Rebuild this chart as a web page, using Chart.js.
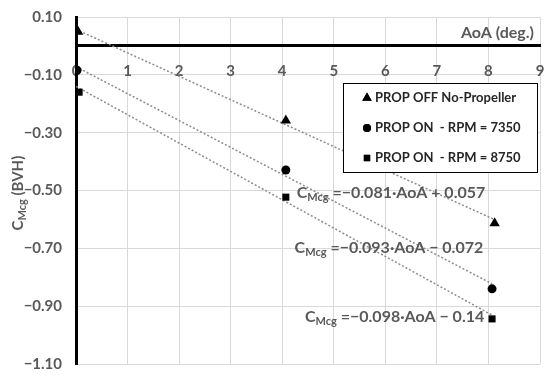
<!DOCTYPE html>
<html>
<head>
<meta charset="utf-8">
<script src="https://cdn.jsdelivr.net/npm/chart.js@4"></script>
<style>
    html, body { margin: 0; background: #fff; }
    #wrap { width: 550px; height: 376px; }
</style>
</head>
<body>
<div id="wrap"><canvas id="chart"></canvas></div>
<script>
const aoaOff = [0.04, 4.07, 8.12];
const cmOff = [0.049, -0.258, -0.613];
const aoa7350 = [0.02, 4.07, 8.07];
const cm7350 = [-0.084, -0.429, -0.84];
const aoa8750 = [0.06, 4.07, 8.07];
const cm8750 = [-0.16, -0.523, -0.944];

// Trend lines as printed on the figure
const seriesLabels = ['PROP OFF No-Propeller', 'PROP ON  - RPM = 7350', 'PROP ON  - RPM = 8750'];
const slopes = [-0.081, -0.093, -0.098];
const intercepts = [0.057, -0.072, -0.14];
const trendStart = [0, 0, 0];
const trendEnd = [8.12, 8.07, 8.07];
const eqTexts = ['=\u22120.081\u00B7AoA + 0.057', '=\u22120.093\u00B7AoA \u2212 0.072', '=\u22120.098\u00B7AoA \u2212 0.14'];

const xTicks = [0, 1, 2, 3, 4, 5, 6, 7, 8, 9];
const yTicks = [0.10, -0.10, -0.30, -0.50, -0.70, -0.90, -1.10];

const FONT = 'Lato, "Open Sans", sans-serif';
const GREY = '#595959';

function pts(xs, ys) {
    return xs.map((x, i) => ({ x: x, y: ys[i] }));
}

function trend(i) {
    return [trendStart[i], trendEnd[i]].map(x => ({ x: x, y: slopes[i] * x + intercepts[i] }));
}

const markerStyles = ['triangle', 'circle', 'rect'];
const markerSizes = [6, 4.5, 5];

// Draws "C" with subscript "Mcg" then the rest
function drawCmcg(ctx, x, y, big, small, rest) {
    ctx.textBaseline = 'middle';
    ctx.textAlign = 'left';
    ctx.font = 'bold ' + big + 'px ' + FONT;
    ctx.fillText('C', x, y);
    x += ctx.measureText('C').width;
    ctx.font = 'bold ' + small + 'px ' + FONT;
    ctx.fillText('Mcg', x, y + big * 0.3);
    x += ctx.measureText('Mcg').width;
    ctx.font = 'bold ' + big + 'px ' + FONT;
    ctx.fillText(rest, x, y);
}

const extrasPlugin = {
    id: 'extras',
    afterDraw(chart) {
        const ctx = chart.ctx;
        const xs = chart.scales.x;
        const ys = chart.scales.y;
        const area = chart.chartArea;
        ctx.save();

        // y axis title (rotated)
        ctx.fillStyle = GREY;
        ctx.translate(18, (area.top + area.bottom) / 2 + 40);
        ctx.rotate(-Math.PI / 2);
        drawCmcg(ctx, 0, 0, 15, 11, ' (BVH)');
        ctx.setTransform(1, 0, 0, 1, 0, 0);

        // x axis title above the zero line
        ctx.font = 'bold 16px ' + FONT;
        ctx.textAlign = 'right';
        ctx.textBaseline = 'middle';
        ctx.fillText('AoA (deg.)', area.right - 6, ys.getPixelForValue(0) - 13);

        // equations
        const eqPos = [[4.28, -0.509], [4.24, -0.697], [4.44, -0.937]];
        eqTexts.forEach((t, i) => {
            drawCmcg(ctx, xs.getPixelForValue(eqPos[i][0]), ys.getPixelForValue(eqPos[i][1]), 16, 11, ' ' + t);
        });

        // legend box
        const bw = 194, bh = 89;
        const bx = area.right - bw - 3, by = 83;
        ctx.fillStyle = '#fff';
        ctx.fillRect(bx, by, bw, bh);
        ctx.strokeStyle = '#000';
        ctx.lineWidth = 1;
        ctx.strokeRect(bx + 0.5, by + 0.5, bw, bh);
        seriesLabels.forEach((label, i) => {
            const cy = by + 15 + i * 30;
            const mx = bx + 24;
            ctx.fillStyle = '#000';
            Chart.helpers.drawPoint(ctx, { pointStyle: markerStyles[i], radius: markerSizes[i] - 0.5, rotation: 0, borderWidth: 0 }, mx, cy);
            ctx.fill();
            ctx.fillStyle = '#262626';
            ctx.font = 'bold 13px ' + FONT;
            ctx.textAlign = 'left';
            ctx.textBaseline = 'middle';
            ctx.fillText(label, mx + 8, cy);
        });
        ctx.restore();
    }
};

const scatterSets = [pts(aoaOff, cmOff), pts(aoa7350, cm7350), pts(aoa8750, cm8750)].map((d, i) => ({
    label: seriesLabels[i],
    data: d,
    showLine: false,
    pointStyle: markerStyles[i],
    pointRadius: markerSizes[i],
    backgroundColor: '#000',
    borderColor: '#000',
    borderWidth: 0
}));

const trendSets = [0, 1, 2].map(i => ({
    label: 'trend ' + i,
    data: trend(i),
    showLine: true,
    pointRadius: 0,
    borderColor: '#8c8c8c',
    borderWidth: 1.5,
    borderDash: [2, 2]
}));

new Chart(document.getElementById('chart'), {
    type: 'scatter',
    data: { datasets: scatterSets.concat(trendSets) },
    options: {
        responsive: true,
        maintainAspectRatio: false,
        animation: false,
        layout: { padding: { left: 0, right: 10, top: 17, bottom: 12 } },
        plugins: {
            legend: { display: false },
            tooltip: { enabled: false }
        },
        scales: {
            x: {
                type: 'linear',
                position: { y: 0 },
                min: 0,
                max: 9,
                afterFit: s => {
                    // axis sits on y = 0, so it should not eat layout space
                    s.height = 0;
                    s.paddingLeft = 0;
                    s.paddingRight = 0;
                },
                afterBuildTicks: s => { s.ticks = xTicks.map(v => ({ value: v })); },
                grid: { color: '#d9d9d9', lineWidth: 1, drawTicks: false },
                border: { color: '#000', width: 3 },
                ticks: {
                    padding: 16,
                    color: GREY,
                    font: { family: FONT, size: 15, weight: 'bold' }
                }
            },
            y: {
                type: 'linear',
                min: -1.1,
                max: 0.1,
                afterFit: s => {
                    s.width = 76;
                    s.paddingTop = 0;
                    s.paddingBottom = 0;
                },
                afterBuildTicks: s => { s.ticks = yTicks.map(v => ({ value: v })); },
                grid: { color: '#d9d9d9', lineWidth: 1, drawTicks: false },
                border: { color: '#000', width: 3 },
                ticks: {
                    padding: 14,
                    color: GREY,
                    font: { family: FONT, size: 15, weight: 'bold' },
                    callback: v => v.toFixed(2).replace('-', '\u2212')
                }
            }
        }
    },
    plugins: [extrasPlugin]
});
</script>
</body>
</html>
